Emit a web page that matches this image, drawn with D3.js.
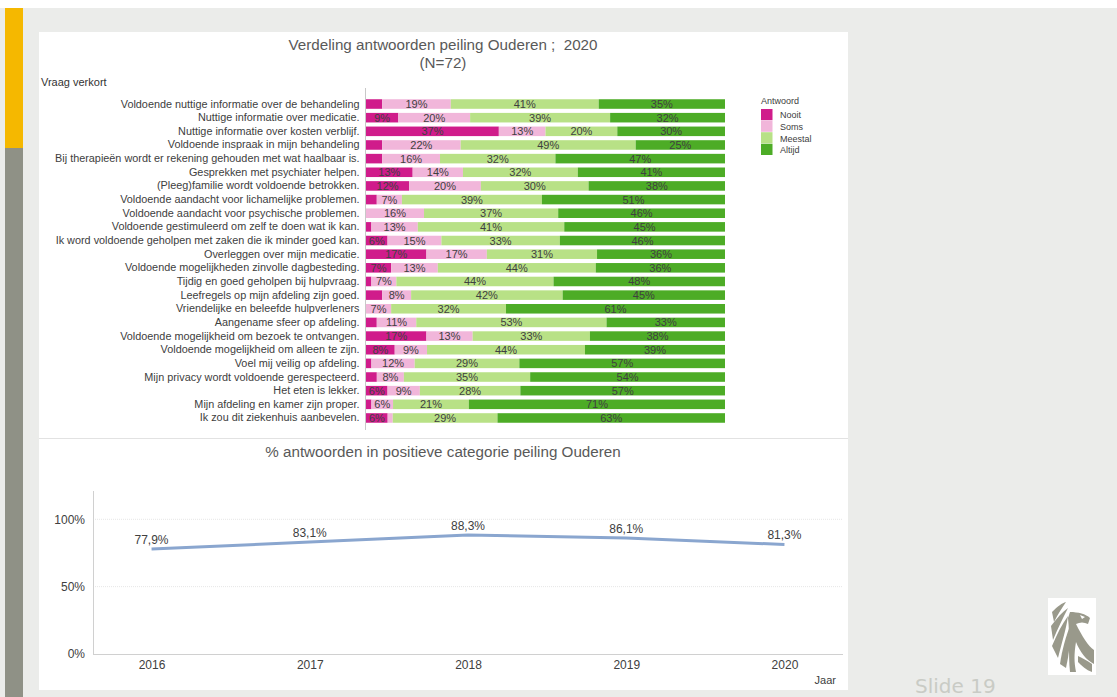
<!DOCTYPE html>
<html><head><meta charset="utf-8">
<script src="https://cdn.jsdelivr.net/npm/d3@7"></script>
<style>
html,body{margin:0;padding:0;background:#fff;}
svg{display:block;font-family:"Liberation Sans",Arial,sans-serif;}
</style></head>
<body>
<svg id="c" width="1117" height="697"></svg>
<script>
// ---- data ----
const questions = [
 "Voldoende nuttige informatie over de behandeling",
 "Nuttige informatie over medicatie.",
 "Nuttige informatie over kosten verblijf.",
 "Voldoende inspraak in mijn behandeling",
 "Bij therapieën wordt er rekening gehouden met wat haalbaar is.",
 "Gesprekken met psychiater helpen.",
 "(Pleeg)familie wordt voldoende betrokken.",
 "Voldoende aandacht voor lichamelijke problemen.",
 "Voldoende aandacht voor psychische problemen.",
 "Voldoende gestimuleerd om zelf te doen wat ik kan.",
 "Ik word voldoende geholpen met zaken die ik minder goed kan.",
 "Overleggen over mijn medicatie.",
 "Voldoende mogelijkheden zinvolle dagbesteding.",
 "Tijdig en goed geholpen bij hulpvraag.",
 "Leefregels op mijn afdeling zijn goed.",
 "Vriendelijke en beleefde hulpverleners",
 "Aangename sfeer op afdeling.",
 "Voldoende mogelijkheid om bezoek te ontvangen.",
 "Voldoende mogelijkheid om alleen te zijn.",
 "Voel mij veilig op afdeling.",
 "Mijn privacy wordt voldoende gerespecteerd.",
 "Het eten is lekker.",
 "Mijn afdeling en kamer zijn proper.",
 "Ik zou dit ziekenhuis aanbevelen."
];
const answers = ["Nooit","Soms","Meestal","Altijd"];
const nooit   = [4.5, 9, 37, 4.5, 4.5, 13, 12, 3, 0, 1.5, 6, 17, 7, 1.5, 4.5, 0, 3, 17, 8, 1.5, 3, 6, 1.5, 6];
const soms    = [19, 20, 13, 22, 16, 14, 20, 7, 16, 13, 15, 17, 13, 7, 8, 7, 11, 13, 9, 12, 7.5, 9, 6, 1.4];
const meestal = [41, 39, 20, 49, 32, 32, 30, 39, 37, 41, 33, 31, 44, 44, 42, 32, 53, 33, 44, 29, 35, 28, 21, 29];
const altijd  = [35, 32, 30, 25, 47, 41, 38, 51, 46, 45, 46, 36, 36, 48, 45, 61, 33, 38, 39, 57, 54, 57, 71, 63];
const answerColors = ["#d01c8b","#f1b6da","#b8e186","#4dac26"];

const years = ["2016","2017","2018","2019","2020"];
const positive = [77.9, 83.1, 88.3, 86.1, 81.3];
const yTicks = [0, 50, 100];

// ---- frame ----
const svg = d3.select("#c");
svg.append("rect").attr("x",0).attr("y",8).attr("width",1117).attr("height",689).attr("fill","#ebecea");
svg.append("rect").attr("x",5).attr("y",8).attr("width",18).attr("height",140).attr("fill","#f5b800");
svg.append("rect").attr("x",5).attr("y",148).attr("width",18).attr("height",549).attr("fill","#8f9186");
svg.append("rect").attr("x",39).attr("y",32).attr("width",809).attr("height",658).attr("fill","#ffffff");
svg.append("line").attr("x1",39).attr("x2",848).attr("y1",438.5).attr("y2",438.5).attr("stroke","#e2e2e2");

// ---- stacked bar chart (each row shown as share of 100%) ----
const rows = questions.map((q,i)=>({q, vals:[nooit[i],soms[i],meestal[i],altijd[i]]}));
const y = d3.scaleBand().domain(questions).range([97.2,424.8]).paddingInner(0.3).paddingOuter(0.15);
const x = d3.scaleLinear().domain([0,1]).range([366,725]);

svg.append("text").attr("x",443).attr("y",50).attr("text-anchor","middle").style("white-space","pre")
  .attr("font-size",15.2).attr("fill","#595959").text("Verdeling antwoorden peiling Ouderen ;  2020");
svg.append("text").attr("x",443).attr("y",68).attr("text-anchor","middle")
  .attr("font-size",15.2).attr("fill","#595959").text("(N=72)");
svg.append("text").attr("x",41).attr("y",86).attr("font-size",11).attr("fill","#333").text("Vraag verkort");

const stack = d3.stack().keys([0,1,2,3]).value((d,k)=>d.vals[k]).offset(d3.stackOffsetExpand);
const series = stack(rows);
const gBars = svg.append("g");
series.forEach((s,k)=>{
  const g = gBars.append("g").attr("fill",answerColors[k]);
  g.selectAll("rect").data(s).join("rect")
    .attr("x",d=>x(d[0])).attr("width",d=>Math.max(0,x(d[1])-x(d[0])))
    .attr("y",d=>y(d.data.q)).attr("height",y.bandwidth());
  g.selectAll("text").data(s.filter(d=>d.data.vals[k]>=5.5)).join("text")
    .attr("x",d=>(x(d[0])+x(d[1]))/2).attr("y",d=>y(d.data.q)+y.bandwidth()/2+4)
    .attr("text-anchor","middle").attr("font-size",11).attr("fill","#404040")
    .text(d=>Math.round(d.data.vals[k])+"%");
});
const yAxis = svg.append("g").attr("transform","translate(365.5,0)")
  .call(d3.axisLeft(y).tickSize(0).tickPadding(6));
yAxis.select(".domain").remove();
yAxis.selectAll("text").attr("font-size",10.85).attr("fill","#404040").attr("font-family","Liberation Sans, Arial, sans-serif");
svg.append("line").attr("x1",365.5).attr("x2",365.5).attr("y1",88).attr("y2",430).attr("stroke","#c8c8c8");

// legend
const leg = svg.append("g").attr("font-size",9).attr("fill","#404040");
leg.append("text").attr("x",761).attr("y",104).text("Antwoord");
answers.forEach((a,k)=>{
  leg.append("rect").attr("x",761).attr("y",109+k*11.6).attr("width",11.5).attr("height",11.2).attr("fill",answerColors[k]);
  leg.append("text").attr("x",780).attr("y",118+k*11.8).text(a);
});

// ---- line chart ----
svg.append("text").attr("x",443).attr("y",457).attr("text-anchor","middle")
  .attr("font-size",15.2).attr("fill","#595959").text("% antwoorden in positieve categorie peiling Ouderen");
const xl = d3.scalePoint().domain(years).range([93,843]).padding(0.37);
const yl = d3.scaleLinear().domain([0,121]).range([654,491]);

yTicks.filter(t=>t>0).forEach(t=>{
  svg.append("line").attr("x1",93).attr("x2",843).attr("y1",yl(t)).attr("y2",yl(t))
    .attr("stroke","#e6e6e6").attr("stroke-dasharray","1,1");
});
svg.append("line").attr("x1",93.5).attr("x2",93.5).attr("y1",491).attr("y2",654).attr("stroke","#d0d0d0");
svg.append("line").attr("x1",93).attr("x2",843).attr("y1",654.5).attr("y2",654.5).attr("stroke","#d0d0d0");

const yAx = svg.append("g").attr("transform","translate(85,0)")
  .call(d3.axisLeft(yl).tickValues(yTicks).tickSize(0).tickPadding(0).tickFormat(d=>d+"%"));
yAx.select(".domain").remove();
yAx.selectAll("text").attr("font-size",12).attr("fill","#404040").attr("font-family","Liberation Sans, Arial, sans-serif");

const xAx = svg.append("g").attr("transform","translate(0,654)")
  .call(d3.axisBottom(xl).tickSize(0).tickPadding(6));
xAx.select(".domain").remove();
xAx.selectAll("text").attr("font-size",12).attr("fill","#404040").attr("font-family","Liberation Sans, Arial, sans-serif");
svg.append("text").attr("x",836).attr("y",684).attr("text-anchor","end").attr("font-size",11).attr("fill","#404040").text("Jaar");

const pts = years.map((yr,i)=>({yr, v:positive[i]}));
svg.append("path").datum(pts)
  .attr("d",d3.line().x(d=>xl(d.yr)).y(d=>yl(d.v)))
  .attr("fill","none").attr("stroke","#8aa6cf").attr("stroke-width",3);
svg.selectAll(".pl").data(pts).join("text").attr("class","pl")
  .attr("x",d=>xl(d.yr)).attr("y",d=>yl(d.v)-5)
  .attr("text-anchor","middle").attr("font-size",12).attr("fill","#404040")
  .text(d=>d3.format(".1f")(d.v).replace(".",",")+"%");

// ---- slide footer ----
svg.append("text").attr("x",915).attr("y",693).attr("font-family","DejaVu Sans, Verdana, sans-serif")
  .attr("font-size",20).attr("fill","#c9cbc5").text("Slide 19");
const logo = svg.append("g");
logo.append("rect").attr("x",1048).attr("y",598).attr("width",48).attr("height",77).attr("fill","#fff");
const lc = "#99998b";
[
 "M1052,612 C1058,606 1062,603 1066,602 C1062,608 1058,614 1054,622 Z",
 "M1051,626 C1057,618 1062,612 1068,608 C1063,618 1058,628 1053,640 Z",
 "M1052,646 C1057,634 1062,624 1068,616 C1066,630 1062,642 1058,658 Z",
 "M1060,664 C1062,650 1066,636 1070,626 C1071,640 1069,654 1066,668 Z",
 "M1070,612 C1078,612 1086,614 1090,618 L1088,624 C1084,622 1080,622 1076,624 C1082,636 1088,646 1094,650 L1094,664 C1086,660 1080,652 1076,642 C1074,654 1074,662 1076,672 L1070,672 C1068,654 1070,636 1068,618 Z",
 "M1078,656 C1082,658 1086,660 1092,664 L1092,672 C1086,670 1082,666 1078,662 Z"
].forEach(p=>logo.append("path").attr("d",p).attr("fill",lc));
logo.append("path").attr("d","M1080,615 l5,2 l-3,2 z").attr("fill","#fff");
</script>
</body></html>
